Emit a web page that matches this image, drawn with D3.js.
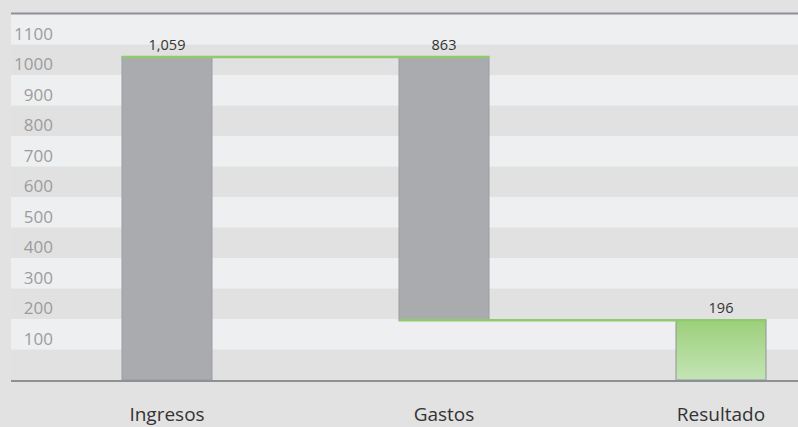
<!DOCTYPE html>
<html><head><meta charset="utf-8">
<script src="https://cdn.jsdelivr.net/npm/d3@7"></script>
<style>html,body{margin:0;padding:0;background:#e2e2e2;}svg{display:block;font-family:"Open Sans",sans-serif;}</style>
</head><body>
<script>
const categories = ["Ingresos", "Gastos", "Resultado"];
const values = [1059, 863, 196];
const yTicks = [100, 200, 300, 400, 500, 600, 700, 800, 900, 1000, 1100];
const labels = ["1,059", "863", "196"];

const W = 798, H = 427;
const plotLeft = 11, plotRight = 798;
const svg = d3.select("body").append("svg").attr("width", W).attr("height", H);

const y = d3.scaleLinear().domain([0, 1200]).range([380, 14]);
const x = d3.scalePoint().domain(categories).range([167, 721]);
const barW = 91;

// waterfall start/end
const starts = [0, values[0] - values[1], 0];
const ends = [values[0], values[0], values[2]];

const defs = svg.append("defs");
const g = defs.append("linearGradient").attr("id","gr").attr("x1",0).attr("y1",0).attr("x2",0).attr("y2",1);
g.append("stop").attr("offset","0%").attr("stop-color","#9cd07a");
g.append("stop").attr("offset","100%").attr("stop-color","#c4e4b6");

// bands
const bands = d3.range(0, 1200, 100);
svg.selectAll("rect.band").data(bands).enter().append("rect")
  .attr("x", plotLeft).attr("width", plotRight - plotLeft)
  .attr("y", d => y(d + 100)).attr("height", d => y(d) - y(d + 100))
  .attr("fill", d => (d / 100) % 2 === 0 ? "#e1e1e1" : "#eeeff0");

// top line
svg.append("line").attr("x1", plotLeft).attr("x2", plotRight)
  .attr("y1", y(1200) - 0.5).attr("y2", y(1200) - 0.5)
  .attr("stroke", "#8d9095").attr("stroke-width", 2);

// y labels
svg.selectAll("text.yl").data(yTicks).enter().append("text")
  .attr("x", 53).attr("y", d => y(d) - 5)
  .attr("text-anchor", "end").attr("font-size", 17).attr("fill", "#9c9c9c")
  .text(d => d);

// bars
svg.selectAll("rect.bar").data(categories).enter().append("rect")
  .attr("x", d => x(d) - barW / 2 + 0.5)
  .attr("width", barW - 1)
  .attr("y", (d, i) => y(ends[i]))
  .attr("height", (d, i) => y(starts[i]) - y(ends[i]))
  .attr("fill", (d, i) => i === 2 ? "url(#gr)" : "#a9abaf")
  .attr("stroke", (d, i) => i === 2 ? "#8f9398" : "#9a9da2")
  .attr("stroke-width", 1);

// connectors (green)
const green = "#8fcb6c";
svg.append("line")
  .attr("x1", x(categories[0]) - barW / 2).attr("x2", x(categories[1]) + barW / 2)
  .attr("y1", y(values[0])).attr("y2", y(values[0]))
  .attr("stroke", green).attr("stroke-width", 2.5);
svg.append("line")
  .attr("x1", x(categories[1]) - barW / 2).attr("x2", x(categories[2]) + barW / 2)
  .attr("y1", y(starts[1])).attr("y2", y(starts[1]))
  .attr("stroke", green).attr("stroke-width", 2.5);

// bottom axis line
svg.append("line").attr("x1", plotLeft).attr("x2", plotRight)
  .attr("y1", 381).attr("y2", 381)
  .attr("stroke", "#8d9095").attr("stroke-width", 2);

// value labels
svg.selectAll("text.vl").data(categories).enter().append("text")
  .attr("x", d => x(d))
  .attr("y", (d, i) => y(Math.max(starts[i], ends[i])) - 7)
  .attr("text-anchor", "middle").attr("font-size", 14.5).attr("fill", "#333")
  .text((d, i) => labels[i]);

// category labels
svg.selectAll("text.cl").data(categories).enter().append("text")
  .attr("x", d => x(d)).attr("y", 421)
  .attr("text-anchor", "middle").attr("font-size", 19).attr("fill", "#333")
  .text(d => d);
</script>
</body></html>
